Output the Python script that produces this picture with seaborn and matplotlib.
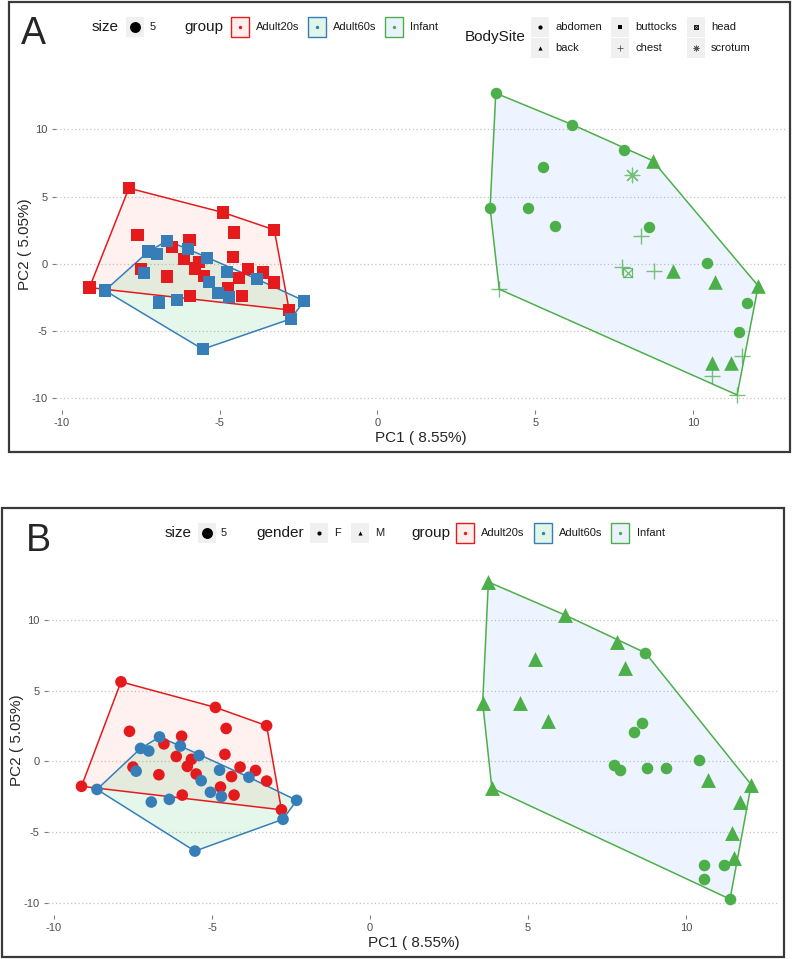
import numpy as np
import pandas as pd
import matplotlib
matplotlib.use("Agg")
import matplotlib.pyplot as plt
import seaborn as sns
from matplotlib.patches import Rectangle, Polygon
from matplotlib.colors import to_rgba

# ---- data (same PCA coordinates in both panels) ----
a20_pc1 = [-7.88, -4.89, -3.27, -9.13, -2.80, -7.61, -5.96, -4.55, -6.52, -4.59, -6.13, -5.65,
           -7.50, -6.68, -5.78, -5.50, -4.11, -3.62, -4.38, -3.27, -4.73, -4.30, -5.94]
a20_pc2 = [5.63, 3.82, 2.53, -1.76, -3.42, 2.13, 1.78, 2.33, 1.24, 0.50, 0.35, 0.15,
           -0.40, -0.94, -0.35, -0.89, -0.40, -0.64, -1.07, -1.39, -1.81, -2.38, -2.38]

a60_pc1 = [-8.64, -2.32, -2.75, -5.54, -6.66, -7.26, -7.00, -6.00, -5.41, -7.40, -4.76, -3.83,
           -5.34, -5.05, -4.70, -6.92, -6.35]
a60_pc2 = [-1.98, -2.75, -4.09, -6.34, 1.73, 0.92, 0.74, 1.09, 0.42, -0.69, -0.62, -1.12,
           -1.36, -2.18, -2.48, -2.87, -2.68]

inf_pc1 = [3.75, 6.17, 7.82, 8.72, 8.06, 5.24, 3.57, 4.76, 5.64, 8.60, 8.35, 7.74, 7.93,
           8.77, 9.38, 10.43, 10.69, 12.07, 11.70, 11.47, 10.59, 11.20, 11.54, 10.59, 11.40, 3.86]
inf_pc2 = [12.69, 10.36, 8.45, 7.68, 6.62, 7.23, 4.14, 4.14, 2.83, 2.73, 2.08, -0.25, -0.64,
           -0.50, -0.50, 0.10, -1.31, -1.64, -2.87, -5.03, -7.34, -7.34, -6.84, -8.33, -9.74, -1.88]
inf_site = ["abdomen", "abdomen", "abdomen", "back", "scrotum", "abdomen", "abdomen", "abdomen",
            "abdomen", "abdomen", "chest", "chest", "head", "chest", "back", "abdomen", "back",
            "back", "abdomen", "abdomen", "back", "back", "chest", "chest", "chest", "chest"]
inf_gender = ["M", "M", "M", "F", "M", "M", "M", "M", "M", "F", "F", "F", "F", "F", "F", "F",
              "M", "M", "M", "M", "F", "F", "M", "F", "F", "M"]

groups = ["Adult20s", "Adult60s", "Infant"]
sites = ["abdomen", "back", "buttocks", "chest", "head", "scrotum"]
x_ticks = [-10, -5, 0, 5, 10]
y_ticks = [-10, -5, 0, 5, 10]

line_cols = {"Adult20s": "#E41A1C", "Adult60s": "#377EB8", "Infant": "#4DAF4A"}
fill_cols = {"Adult20s": "#F8766D", "Adult60s": "#00BA38", "Infant": "#619CFF"}

df = pd.concat([
    pd.DataFrame({"PC1": a20_pc1, "PC2": a20_pc2, "group": "Adult20s", "BodySite": "buttocks", "gender": "F"}),
    pd.DataFrame({"PC1": a60_pc1, "PC2": a60_pc2, "group": "Adult60s", "BodySite": "buttocks", "gender": "F"}),
    pd.DataFrame({"PC1": inf_pc1, "PC2": inf_pc2, "group": "Infant", "BodySite": inf_site, "gender": inf_gender}),
], ignore_index=True)
adults = df[df.group != "Infant"]
inf = df[df.group == "Infant"]

sns.set_theme(style="white")
plt.rcParams["font.family"] = ["Liberation Sans Narrow", "Liberation Sans", "DejaVu Sans"]
plt.rcParams["axes.unicode_minus"] = False

W, H = 800, 959
fig = plt.figure(figsize=(8, 9.59), dpi=100)


def axes_px(left, top, right, bottom):
    return fig.add_axes([left / W, 1 - bottom / H, (right - left) / W, (bottom - top) / H])


def hull(pts):
    pts = sorted(map(tuple, pts))
    def cross(o, a, b):
        return (a[0] - o[0]) * (b[1] - o[1]) - (a[1] - o[1]) * (b[0] - o[0])
    lower, upper = [], []
    for p in pts:
        while len(lower) >= 2 and cross(lower[-2], lower[-1], p) <= 0:
            lower.pop()
        lower.append(p)
    for p in reversed(pts):
        while len(upper) >= 2 and cross(upper[-2], upper[-1], p) <= 0:
            upper.pop()
        upper.append(p)
    return np.array(lower[:-1] + upper[:-1])


def setup(ax):
    ax.set_xlim(-10.19, 12.95)
    ax.set_ylim(-10.86, 13.82)
    ax.set_xticks(x_ticks)
    ax.set_yticks(y_ticks)
    ax.set_facecolor("white")
    ax.grid(axis="y", color="#C4C4C4", linestyle=(0, (1, 2)), linewidth=0.9)
    ax.grid(axis="x", visible=False)
    ax.set_axisbelow(True)
    for s in ax.spines.values():
        s.set_visible(False)
    ax.tick_params(bottom=True, left=True, length=3, width=0.8, color="#7F7F7F",
                   labelcolor="#4D4D4D", labelsize=8, pad=3)
    for g in groups:
        sub = df[df.group == g]
        pts = hull(sub[["PC1", "PC2"]].to_numpy())
        ax.add_patch(Polygon(pts, closed=True, facecolor=to_rgba(fill_cols[g], 0.1),
                             edgecolor="none", zorder=1))
        ax.add_patch(Polygon(pts, closed=True, facecolor="none", edgecolor=line_cols[g],
                             linewidth=1.1, zorder=2))


def labels(ax, xl_y, yl_x):
    ax.set_xlabel("PC1 ( 8.55%)", fontsize=11)
    ax.set_ylabel("PC2 ( 5.05%)", fontsize=11)
    ax.xaxis.set_label_coords(0.5, xl_y)
    ax.xaxis.label.set_va("center")
    ax.yaxis.set_label_coords(yl_x, 0.5)
    ax.yaxis.label.set_va("center")


green = line_cols["Infant"]

# ---- panel A : shape = BodySite ----
axA = axes_px(56, 78, 786, 410)
setup(axA)
sns.scatterplot(data=adults, x="PC1", y="PC2", hue="group", hue_order=groups[:2],
                palette=line_cols, marker="s", s=78, linewidth=0, legend=False, ax=axA, zorder=3)
sns.scatterplot(data=inf[inf.BodySite == "abdomen"], x="PC1", y="PC2", color=green,
                marker="o", s=68, linewidth=0, legend=False, ax=axA, zorder=3)
sns.scatterplot(data=inf[inf.BodySite == "back"], x="PC1", y="PC2", color=green,
                marker="^", s=110, linewidth=0, legend=False, ax=axA, zorder=3)
sns.scatterplot(data=inf[inf.BodySite == "chest"], x="PC1", y="PC2", color=green, alpha=0.75,
                marker="+", s=120, linewidth=1.0, legend=False, ax=axA, zorder=3)
sns.scatterplot(data=inf[inf.BodySite == "scrotum"], x="PC1", y="PC2", color=green, alpha=0.75,
                marker=(8, 2, 0), s=110, linewidth=0.9, legend=False, ax=axA, zorder=3)
head = inf[inf.BodySite == "head"]
axA.scatter(head.PC1, head.PC2, marker="s", s=48, facecolors="none", edgecolors=green,
            linewidths=0.9, alpha=0.8, zorder=3)
axA.scatter(head.PC1, head.PC2, marker="x", s=40, color=green, linewidths=0.9, alpha=0.8, zorder=3)
labels(axA, -0.085, -0.042)

# ---- panel B : shape = gender ----
axB = axes_px(48, 566, 779, 915)
setup(axB)
sns.scatterplot(data=adults, x="PC1", y="PC2", hue="group", hue_order=groups[:2],
                palette=line_cols, marker="o", s=70, linewidth=0, legend=False, ax=axB, zorder=3)
sns.scatterplot(data=inf[inf.gender == "F"], x="PC1", y="PC2", color=green,
                marker="o", s=70, linewidth=0, legend=False, ax=axB, zorder=3)
sns.scatterplot(data=inf[inf.gender == "M"], x="PC1", y="PC2", color=green,
                marker="^", s=115, linewidth=0, legend=False, ax=axB, zorder=3)
labels(axB, -0.08, -0.043)

# ---- overlay in pixel units: frames, panel letters, legends ----
ov = fig.add_axes([0, 0, 1, 1], zorder=10)
ov.set_xlim(0, W)
ov.set_ylim(H, 0)
ov.axis("off")
ov.patch.set_alpha(0)

ov.add_patch(Rectangle((9, 2), 781, 450, fill=False, edgecolor="#3A3A3A", linewidth=1.6))
ov.add_patch(Rectangle((2, 508), 782, 449, fill=False, edgecolor="#3A3A3A", linewidth=1.6))
ov.text(33, 34, "A", fontsize=27, ha="center", va="center")
ov.text(38, 541, "B", fontsize=27, ha="center", va="center")


def key_bg(x, y):
    ov.add_patch(Rectangle((x - 9, y - 10), 18, 20, facecolor="#F0F0F0", edgecolor="none"))


def title(x, y, s):
    ov.text(x, y, s, fontsize=11, ha="center", va="center", color="#1A1A1A")


def lab(x, y, s):
    ov.text(x, y, s, fontsize=8, ha="left", va="center", color="#1A1A1A")


def group_keys(xs, lxs, y):
    for g, kx, lx in zip(groups, xs, lxs):
        ov.add_patch(Rectangle((kx - 9, y - 10), 18, 20, facecolor=to_rgba(fill_cols[g], 0.12),
                               edgecolor=line_cols[g], linewidth=1.0))
        ov.scatter([kx], [y], s=6, color=line_cols[g], linewidths=0)
        lab(lx, y, g)


def size_key(tx, kx, lx, y):
    title(tx, y, "size")
    key_bg(kx, y)
    ov.scatter([kx], [y], s=62, color="black", linewidths=0)
    lab(lx, y, "5")


# legend A
size_key(105, 135, 150, 27)
title(204, 27, "group")
group_keys([240, 317, 394], [256, 333, 410], 27)
title(495, 37, "BodySite")
site_marks = {"abdomen": "o", "back": "^", "buttocks": "s", "chest": "+", "head": "s", "scrotum": (8, 2, 0)}
site_pos = {"abdomen": (540, 27), "back": (540, 48), "buttocks": (620, 27), "chest": (620, 48),
            "head": (696, 27), "scrotum": (696, 48)}
for site in sites:
    kx, ky = site_pos[site]
    key_bg(kx, ky)
    m = site_marks[site]
    if site == "head":
        ov.scatter([kx], [ky], marker="s", s=10, facecolors="none", edgecolors="black", linewidths=0.6)
        ov.scatter([kx], [ky], marker="x", s=8, color="black", linewidths=0.6)
    elif site in ("chest", "scrotum"):
        ov.scatter([kx], [ky], marker=m, s=14, color="#555555", linewidths=0.6)
    else:
        ov.scatter([kx], [ky], marker=m, s=9, color="black", linewidths=0)
    lab(kx + 15, ky, site)

# legend B
size_key(178, 207, 221, 533)
title(280, 533, "gender")
for gname, kx, m in [("F", 319, "o"), ("M", 360, "^")]:
    key_bg(kx, 533)
    ov.scatter([kx], [533], marker=m, s=9, color="black", linewidths=0)
    lab(kx + 15, 533, gname)
title(431, 533, "group")
group_keys([465, 543, 620], [481, 559, 637], 533)

fig.savefig("out.png", dpi=100, facecolor="white")
